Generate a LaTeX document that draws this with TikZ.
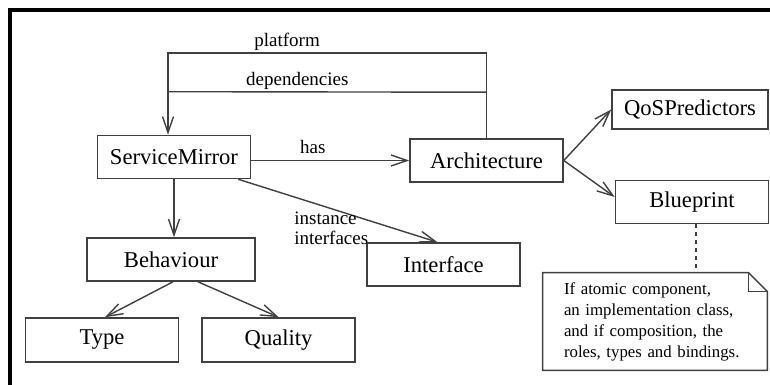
\documentclass[tikz,border=0pt]{standalone}
\usepackage{fontspec}
\setmainfont{Liberation Serif}
\usetikzlibrary{arrows.meta,positioning}

\tikzset{
  box/.style={draw=black!75, line width=0.8pt, minimum width=76.5pt, minimum height=21.5pt, inner sep=0pt, font=\fontsize{11.3}{13.5}\selectfont},
  lbl/.style={font=\fontsize{9.5}{10}\selectfont, inner sep=1pt},
  link/.style={draw=black!75, line width=0.7pt},
}

\begin{document}
\begin{tikzpicture}[x=0.5pt, y=-0.5pt, >={Straight Barb[length=8pt,width=5.5pt]}]
    \useasboundingbox (0,0) rectangle (770,385);
    \draw[line width=2pt] (10,385) -- (10,10) -- (770,10);

    \node[box] (SM) at (174,157) {ServiceMirror};
    \node[box] (Arch) at (486.5,160.5) {Architecture};
    \node[box, minimum width=78pt, minimum height=19.5pt] (QoS) at (690,109.5) {QoSPredictors};
    \node[box] (Blue) at (692,202) {Blueprint};
    \node[box] (If) at (443.5,264.5) {Interface};
    \node[box, minimum width=84pt] (Beh) at (171,259.5) {Behaviour};
    \node[box, minimum height=22pt] (Type) at (102,340) {Type};
    \node[box, minimum height=22pt, right=11pt of Type] (Qual) {Quality};

    % note attached to the blueprint
    \node[minimum width=112pt, minimum height=48.5pt, text width=91pt, inner xsep=10.5pt, align=left, font=\fontsize{8.4}{10.5}\selectfont] (note) at (655,321.5)
        {If atomic component,\\ an implementation class,\\ and if composition, the\\ roles, types and bindings.};
    \draw[link] (note.north west) -- ([xshift=-9.5pt]note.north east) -- ([yshift=-9.5pt]note.north east) -- (note.south east) -- (note.south west) -- cycle;
    \draw[link] ([xshift=-9.5pt]note.north east) |- ([yshift=-9.5pt]note.north east);
    \draw[link, dash pattern=on 2pt off 2pt] ([xshift=2pt]Blue.south) -- ([xshift=2pt]Blue.south |- note.north);

    \draw[link, ->] (Arch.north) -- ++(0,-85) -| node[lbl, above, pos=0.313] {platform} ([xshift=-3pt]SM.north);
    \draw[link] ([yshift=23pt]Arch.north) -- node[lbl, above, pos=0.594] {dependencies} ([xshift=-3pt, yshift=21.5pt]SM.north);
    \draw[link, ->] (SM.east |- Arch) -- node[lbl, above=2pt, pos=0.39] {has} (Arch.west);
    \draw[link, ->] (SM.south) -- (SM.south |- Beh.north);
    \draw[link, ->] ([xshift=-6.5pt]SM.south east) -- ([xshift=-3pt]If.north);
    \node[lbl, align=left, anchor=west] (ii) at (292,228) {instance\\interfaces};
    \draw[link, ->] ([xshift=1pt]Beh.south) -- ([xshift=1.5pt]Type.north);
    \draw[link, ->] ([xshift=13.5pt]Beh.south) -- (Qual.north);
    \draw[link, ->] (Arch.east) -- (QoS.west);
    \draw[link, ->] (Arch.east) -- ([yshift=2.5pt]Blue.west);
\end{tikzpicture}
\end{document}
